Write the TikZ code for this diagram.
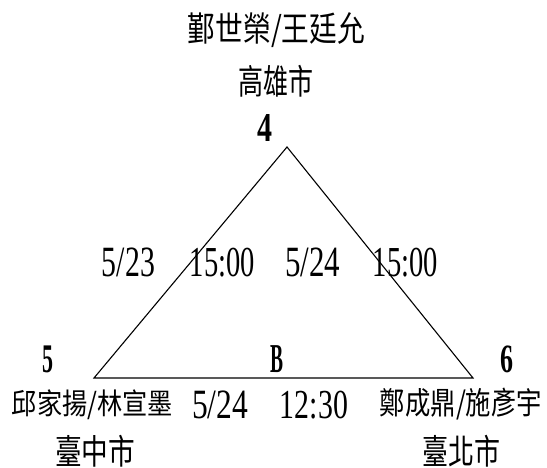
\documentclass[tikz,border=0pt]{standalone}
\usepackage{fontspec}
\usepackage{graphicx}
\setmainfont{Liberation Serif}
\newfontfamily\cjk{Noto Sans CJK TC}
\newcommand{\fitbox}[3]{\resizebox*{#1pt}{#2pt}{#3}}
\begin{document}
\begin{tikzpicture}[x=1pt,y=-1pt,
  lbl/.style={inner sep=0pt,outer sep=0pt,anchor=center},
  edge/.style={line width=1.1pt,line join=miter}]
\useasboundingbox (0,0) rectangle (547,468);
% triangle
\coordinate (A) at (287,147);
\coordinate (L) at (94,378);
\coordinate (R) at (473,378);
\draw[edge] (L) -- (A) -- (R) -- cycle;
% top
\node[lbl] (top1) at (276.5,30.5) {\fitbox{177}{35}{\cjk 鄞世榮/王廷允}};
\node[lbl] (top2) at (275.5,81) {\fitbox{75}{32}{\cjk 高雄市}};
\node[lbl] (n4) at (264.5,128.5) {\fitbox{15}{27}{\bfseries 4}};
% middle times
\node[lbl] (d1) at (128.5,262.5) {\fitbox{53}{29}{5/23}};
\node[lbl] (d2) at (222.5,262.5) {\fitbox{65}{29}{15:00}};
\node[lbl] (d3) at (312.5,262.5) {\fitbox{55}{29}{5/24}};
\node[lbl] (d4) at (405.5,262.5) {\fitbox{65}{29}{15:00}};
% corner numbers
\node[lbl] (n5) at (47.5,359) {\fitbox{11}{27}{\bfseries 5}};
\node[lbl] (nB) at (276.5,359) {\fitbox{13}{27}{\bfseries B}};
\node[lbl] (n6) at (506.5,359) {\fitbox{13}{27}{\bfseries 6}};
% bottom row
\node[lbl] (left) at (92.5,405) {\fitbox{161}{30}{\cjk 邱家揚/林宣墨}};
\node[lbl] (b1) at (220,405) {\fitbox{56}{28}{5/24}};
\node[lbl] (b2) at (314,405) {\fitbox{68}{28}{12:30}};
\node[lbl] (right) at (461,404) {\fitbox{162}{32}{\cjk 鄭成鼎/施彥宇}};
\node[lbl] (cityL) at (95,451) {\fitbox{80}{32}{\cjk 臺中市}};
\node[lbl] (cityR) at (461,451) {\fitbox{78}{32}{\cjk 臺北市}};
\end{tikzpicture}
\end{document}
